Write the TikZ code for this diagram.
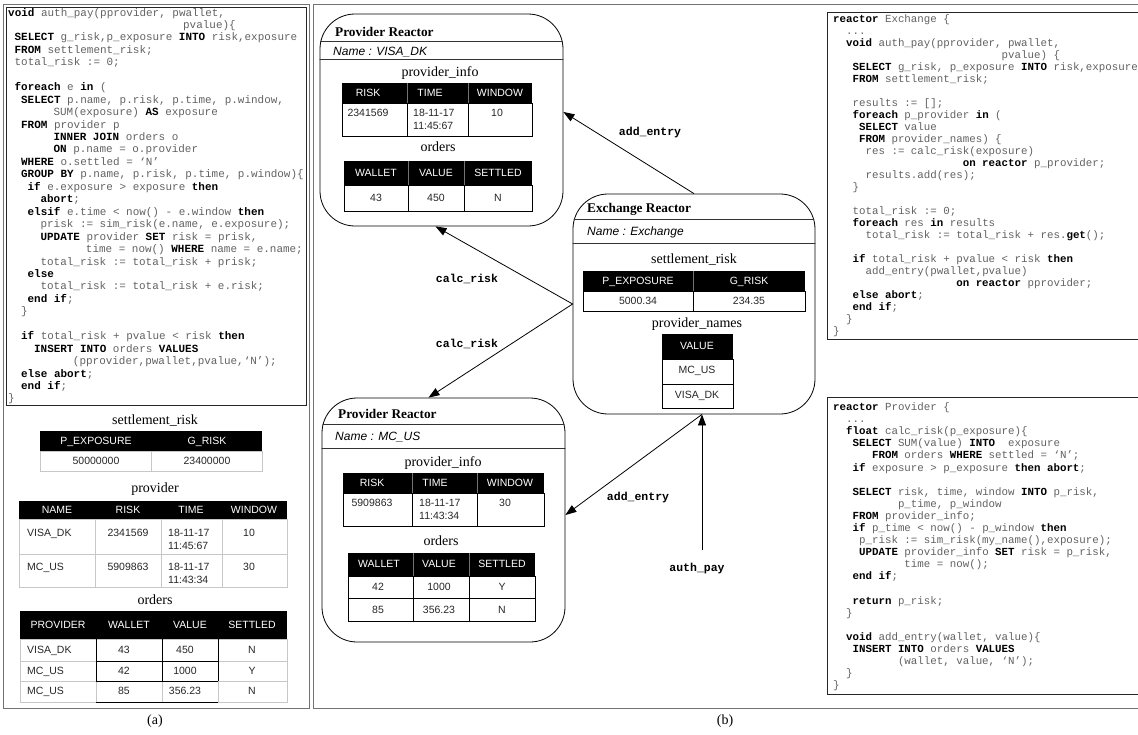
\documentclass[tikz,border=0pt]{standalone}
\usepackage{fontspec}
\setmainfont{Liberation Serif}
\setsansfont{Liberation Sans}
\newfontfamily\codefont{Liberation Mono}
\usetikzlibrary{arrows.meta,calc}
\newlength\chw \setlength\chw{6.48pt}
\newcommand\kw[1]{\textbf{\color{black}#1}}
\newcommand\ci[1]{\hspace*{#1\chw}}
\newcommand\threedots{...}
\begin{document}
\begin{tikzpicture}[x=1pt,y=-1pt,
  code/.style={anchor=base west, inner sep=0, yshift=-3.5pt, font=\codefont\fontsize{10.8}{12}\selectfont, text=black!62},
  lcode/.style={code, font=\codefont\fontsize{10.95}{12}\selectfont},
  hd/.style={anchor=base, inner sep=0, yshift=-3.8pt, font=\sffamily\fontsize{10.5}{12}\selectfont, text=white},
  dt/.style={anchor=base, inner sep=0, yshift=-3.8pt, font=\sffamily\fontsize{10.5}{12}\selectfont, text=black!85},
  dtl/.style={dt, anchor=base west},
  ttl/.style={anchor=base, inner sep=0, yshift=-4.5pt, font=\rmfamily\fontsize{14}{16}\selectfont},
  rtitle/.style={anchor=base west, inner sep=0, yshift=-4.4pt, font=\rmfamily\bfseries\fontsize{13.3}{15}\selectfont},
  rname/.style={anchor=base west, inner sep=0, yshift=-4.3pt, font=\sffamily\itshape\fontsize{12}{14}\selectfont},
  lbl/.style={anchor=base, inner sep=0, yshift=-3.5pt, font=\codefont\bfseries\fontsize{11.5}{13}\selectfont},
  reactor/.style={draw, line width=0.8pt, rounded corners=35pt, inner sep=0},
  arr/.style={-{Triangle[length=11pt,width=8pt]}, line width=0.8pt},
  panel/.style={draw=black!55, line width=0.9pt},
  cbox/.style={draw=black!85, line width=1pt},
  lg/.style={draw=black!22, line width=0.6pt},
  bk/.style={draw=black, line width=0.7pt},
  hsep/.style={draw=black!55, line width=0.4pt},
  sep/.style={draw=black!80, line width=0.7pt}]
\useasboundingbox (0,0) rectangle (1138,734);

% ---------------- panels
\draw[panel] (3,4) rectangle (309,708);
\draw[cbox] (6,7) rectangle (306,405);
\draw[panel] (1145,4) -- (313,4) -- (313,708) -- (1145,708);
\draw[cbox] (1145,12) -- (827,12) -- (827,339) -- (1145,339);
\draw[cbox] (1145,397) -- (827,397) -- (827,694) -- (1145,694);

% ---------------- left code
\foreach \t [count=\i] in {
{\kw{void} auth\_pay(pprovider, pwallet,},
{\ci{27}pvalue)\{},
{\ci{1}\kw{SELECT} g\_risk,p\_exposure \kw{INTO} risk,exposure},
{\ci{1}\kw{FROM} settlement\_risk;},
{\ci{1}total\_risk := 0;},
{},
{\ci{1}\kw{foreach} e \kw{in} (},
{\ci{2}\kw{SELECT} p.name, p.risk, p.time, p.window,},
{\ci{7}SUM(exposure) \kw{AS} exposure},
{\ci{2}\kw{FROM} provider p},
{\ci{7}\kw{INNER JOIN} orders o},
{\ci{7}\kw{ON} p.name = o.provider},
{\ci{2}\kw{WHERE} o.settled = ‘N’},
{\ci{2}\kw{GROUP BY} p.name, p.risk, p.time, p.window)\{},
{\ci{3}\kw{if} e.exposure > exposure \kw{then}},
{\ci{5}\kw{abort};},
{\ci{3}\kw{elsif} e.time < now() - e.window \kw{then}},
{\ci{5}prisk := sim\_risk(e.name, e.exposure);},
{\ci{5}\kw{UPDATE} provider \kw{SET} risk = prisk,},
{\ci{12}time = now() \kw{WHERE} name = e.name;},
{\ci{5}total\_risk := total\_risk + prisk;},
{\ci{3}\kw{else}},
{\ci{5}total\_risk := total\_risk + e.risk;},
{\ci{3}\kw{end if};},
{\ci{2}\}},
{},
{\ci{2}\kw{if} total\_risk + pvalue < risk \kw{then}},
{\ci{4}\kw{INSERT INTO} orders \kw{VALUES}},
{\ci{10}(pprovider,pwallet,pvalue,‘N’);},
{\ci{2}\kw{else abort};},
{\ci{2}\kw{end if};},
{\}}}
{ \node[lcode] (lc\i) at (8,{12.5+(\i-1)*12.45}) {\t}; }

% ---------------- right top code
\foreach \t [count=\i] in {
{\kw{reactor} Exchange \{},
{\ci{2}\threedots},
{\ci{2}\kw{void} auth\_pay(pprovider, pwallet,},
{\ci{26}pvalue) \{},
{\ci{3}\kw{SELECT} g\_risk, p\_exposure \kw{INTO} risk,exposure},
{\ci{3}\kw{FROM} settlement\_risk;},
{},
{\ci{3}results := [];},
{\ci{3}\kw{foreach} p\_provider \kw{in} (},
{\ci{4}\kw{SELECT} value},
{\ci{4}\kw{FROM} provider\_names) \{},
{\ci{5}res := calc\_risk(exposure)},
{\ci{20}\kw{on reactor} p\_provider;},
{\ci{5}results.add(res);},
{\ci{3}\}},
{},
{\ci{3}total\_risk := 0;},
{\ci{3}\kw{foreach} res \kw{in} results},
{\ci{5}total\_risk := total\_risk + res.\kw{get}();},
{},
{\ci{3}\kw{if} total\_risk + pvalue < risk \kw{then}},
{\ci{5}add\_entry(pwallet,pvalue)},
{\ci{19}\kw{on reactor} pprovider;},
{\ci{3}\kw{else abort};},
{\ci{3}\kw{end if};},
{\ci{2}\}},
{\}}}
{ \node[code] (rc\i) at (833,{19+(\i-1)*12.0}) {\t}; }

% ---------------- right bottom code
\foreach \t [count=\i] in {
{\kw{reactor} Provider \{},
{\ci{2}\threedots},
{\ci{2}\kw{float} calc\_risk(p\_exposure)\{},
{\ci{3}\kw{SELECT} SUM(value) \kw{INTO}\ci{2}exposure},
{\ci{6}\kw{FROM} orders \kw{WHERE} settled = ‘N’;},
{\ci{3}\kw{if} exposure > p\_exposure \kw{then abort};},
{},
{\ci{3}\kw{SELECT} risk, time, window \kw{INTO} p\_risk,},
{\ci{10}p\_time, p\_window},
{\ci{3}\kw{FROM} provider\_info;},
{\ci{3}\kw{if} p\_time < now() - p\_window \kw{then}},
{\ci{4}p\_risk := sim\_risk(my\_name(),exposure);},
{\ci{4}\kw{UPDATE} provider\_info \kw{SET} risk = p\_risk,},
{\ci{11}time = now();},
{\ci{3}\kw{end if};},
{},
{\ci{3}\kw{return} p\_risk;},
{\ci{2}\}},
{},
{\ci{2}\kw{void} add\_entry(wallet, value)\{},
{\ci{3}\kw{INSERT INTO} orders \kw{VALUES}},
{\ci{10}(wallet, value, ‘N’);},
{\ci{2}\}},
{\}}}
{ \node[code] (rb\i) at (833,{407+(\i-1)*12.1}) {\t}; }

% ---------------- left tables
\node[ttl] (tsr) at (155,420) {settlement\_risk};
\fill (40,431) rectangle (262,451);
\node[hd] (hsr1) at (96,441) {P\_EXPOSURE};
\node[hd] (hsr2) at (207,441) {G\_RISK};
\draw[lg] (40,451) rectangle (151,471) (151,451) rectangle (262,471);
\node[dt] (dsr1) at (96,461) {50000000};
\node[dt] (dsr2) at (207,461) {23400000};

\node[ttl] (tpv) at (155,488) {provider};
\fill (19,501) rectangle (287,519);
\node[hd] (hpv1) at (57,510) {NAME};
\node[hd] (hpv2) at (128,510) {RISK};
\node[hd] (hpv3) at (191,510) {TIME};
\node[hd] (hpv4) at (254,510) {WINDOW};
\draw[lg] (19,519) rectangle (287,587) (19,554) -- (287,554)
  (95,519) -- (95,587) (161,519) -- (161,587) (222,519) -- (222,587);
\node[dtl] (dpv11) at (27,533) {VISA\_DK};
\node[dt] (dpv12) at (128,533) {2341569};
\node[dtl] (dpv13) at (168,533) {18-11-17};
\node[dtl] (dpv13b) at (168,546) {11:45:67};
\node[dt] (dpv14) at (249,533) {10};
\node[dtl] (dpv21) at (27,567) {MC\_US};
\node[dt] (dpv22) at (128,567) {5909863};
\node[dtl] (dpv23) at (168,567) {18-11-17};
\node[dtl] (dpv23b) at (168,580) {11:43:34};
\node[dt] (dpv24) at (249,567) {30};

\node[ttl] (tor) at (155,600) {orders};
\fill (20,611) rectangle (287,639);
\node[hd] (hor1) at (58,625) {PROVIDER};
\node[hd] (hor2) at (129,625) {WALLET};
\node[hd] (hor3) at (190,625) {VALUE};
\node[hd] (hor4) at (252,625) {SETTLED};
\draw[lg] (20,639) rectangle (287,702) (20,661) -- (287,661) (20,681) -- (287,681)
  (96,639) -- (96,702) (162,639) -- (162,702) (218,639) -- (218,702);
\draw[bk] (96,639) -- (96,681) (162,639) -- (162,681) (218,639) -- (218,681)
  (96,661) -- (218,661) (96,681) -- (218,681) (96,702) -- (218,702);
\foreach \p/\w/\v/\s [count=\r] in {VISA\_DK/43/450/N, MC\_US/42/1000/Y, MC\_US/85/356.23/N}{
  \node[dtl] (dor\r a) at (27,{650+(\r-1)*20.5}) {\p};
  \node[dt] (dor\r b) at (124,{650+(\r-1)*20.5}) {\w};
  \node[dt] (dor\r c) at (185,{650+(\r-1)*20.5}) {\v};
  \node[dt] (dor\r d) at (252,{650+(\r-1)*20.5}) {\s};
}

% ---------------- reactor: VISA_DK
\node[reactor, minimum width=243pt, minimum height=212pt] (prov1) at (441.5,120) {};
\begin{scope}
  \clip[rounded corners=35pt] (prov1.north west) rectangle (prov1.south east);
  \draw[sep] (300,41) -- (580,41) (300,59) -- (580,59);
\end{scope}
\node[rtitle] (p1t) at (335,32) {Provider Reactor};
\node[rname] (p1n) at (333,51) {Name : VISA\_DK};
\node[ttl] (p1i) at (440,72) {provider\_info};
\fill (342,83) rectangle (532,103);
\draw[hsep] (407,83) -- (407,103) (468,83) -- (468,103);
\node[hd] (p1h1) at (368,93) {RISK};
\node[hd] (p1h2) at (430,93) {TIME};
\node[hd] (p1h3) at (500,93) {WINDOW};
\draw[bk] (342,103) rectangle (532,136) (407,103) -- (407,136) (468,103) -- (468,136);
\node[dt] (p1d1) at (368,113) {2341569};
\node[dtl] (p1d2) at (413,113) {18-11-17};
\node[dtl] (p1d2b) at (413,126) {11:45:67};
\node[dt] (p1d3) at (497,113) {10};
\node[ttl] (p1o) at (438,147) {orders};
\fill (344,161) rectangle (532,185);
\draw[hsep] (408,161) -- (408,185) (464,161) -- (464,185);
\node[hd] (p1oh1) at (376,173) {WALLET};
\node[hd] (p1oh2) at (436,173) {VALUE};
\node[hd] (p1oh3) at (498,173) {SETTLED};
\draw[bk] (344,185) rectangle (532,211) (408,185) -- (408,211) (464,185) -- (464,211);
\node[dt] (p1od1) at (376,198) {43};
\node[dt] (p1od2) at (436,198) {450};
\node[dt] (p1od3) at (498,198) {N};

% ---------------- reactor: Exchange
\node[reactor, minimum width=242pt, minimum height=220pt] (exch) at (694,304) {};
\begin{scope}
  \clip[rounded corners=35pt] (exch.north west) rectangle (exch.south east);
  \draw[sep] (560,219) -- (830,219) (560,243) -- (830,243);
\end{scope}
\node[rtitle] (ext) at (587,208) {Exchange Reactor};
\node[rname] (exn) at (587,231) {Name : Exchange};
\node[ttl] (exs) at (694,259) {settlement\_risk};
\fill (583,271) rectangle (805,291);
\draw[hsep] (693,271) -- (693,291);
\node[hd] (exh1) at (638,281) {P\_EXPOSURE};
\node[hd] (exh2) at (749,281) {G\_RISK};
\draw[bk] (583,291) rectangle (805,311) (693,291) -- (693,311);
\node[dt] (exd1) at (638,301) {5000.34};
\node[dt] (exd2) at (749,301) {234.35};
\node[ttl] (exp) at (697,323) {provider\_names};
\fill (662,334) rectangle (733,359);
\node[hd] (exvh) at (697,346) {VALUE};
\draw[bk] (662,359) rectangle (733,408) (662,384) -- (733,384);
\node[dt] (exv1) at (697,370) {MC\_US};
\node[dt] (exv2) at (697,395) {VISA\_DK};

% ---------------- reactor: MC_US
\node[reactor, minimum width=243pt, minimum height=244pt] (prov2) at (443.5,520) {};
\begin{scope}
  \clip[rounded corners=35pt] (prov2.north west) rectangle (prov2.south east);
  \draw[sep] (300,424) -- (580,424) (300,448) -- (580,448);
\end{scope}
\node[rtitle] (p2t) at (338,414) {Provider Reactor};
\node[rname] (p2n) at (335,436) {Name : MC\_US};
\node[ttl] (p2i) at (443,462) {provider\_info};
\fill (343,473) rectangle (544,493);
\draw[hsep] (412,473) -- (412,493) (477,473) -- (477,493);
\node[hd] (p2h1) at (372,483) {RISK};
\node[hd] (p2h2) at (435,483) {TIME};
\node[hd] (p2h3) at (510,483) {WINDOW};
\draw[bk] (343,493) rectangle (544,526) (412,493) -- (412,526) (477,493) -- (477,526);
\node[dt] (p2d1) at (372,503) {5909863};
\node[dtl] (p2d2) at (419,503) {18-11-17};
\node[dtl] (p2d2b) at (419,516) {11:43:34};
\node[dt] (p2d3) at (505,503) {30};
\node[ttl] (p2o) at (441,541) {orders};
\fill (348,553) rectangle (535,576);
\draw[hsep] (413,553) -- (413,576) (469,553) -- (469,576);
\node[hd] (p2oh1) at (379,564) {WALLET};
\node[hd] (p2oh2) at (439,564) {VALUE};
\node[hd] (p2oh3) at (502,564) {SETTLED};
\draw[bk] (348,576) rectangle (535,621) (348,598) -- (535,598) (413,576) -- (413,621) (469,576) -- (469,621);
\node[dt] (p2od1) at (378,587) {42};
\node[dt] (p2od2) at (439,587) {1000};
\node[dt] (p2od3) at (502,587) {Y};
\node[dt] (p2od4) at (378,610) {85};
\node[dt] (p2od5) at (439,610) {356.23};
\node[dt] (p2od6) at (502,610) {N};

% ---------------- connectors
\draw[arr] (exch.north) -- ([yshift=8pt]prov1.east);
\node[lbl] (l1) at (650,132) {add\_entry};
\draw[arr] (exch.west) -- ([xshift=-6pt]prov1.south);
\node[lbl] (l2) at (467,279) {calc\_risk};
\draw[arr] (exch.west) -- ([xshift=-15pt]prov2.north);
\node[lbl] (l3) at (467,344) {calc\_risk};
\draw[arr] ([xshift=8pt]exch.south) -- ([yshift=5pt]prov2.east);
\node[lbl] (l4) at (638,497) {add\_entry};
\coordinate (apsrc) at (702,550);
\draw[arr] (apsrc) -- ([xshift=8pt]exch.south);
\node[lbl] (l5) at (697,568) {auth\_pay};

% ---------------- captions
\node[ttl] (capa) at (155,720) {(a)};
\node[ttl] (capb) at (725,720) {(b)};
\end{tikzpicture}
\end{document}
